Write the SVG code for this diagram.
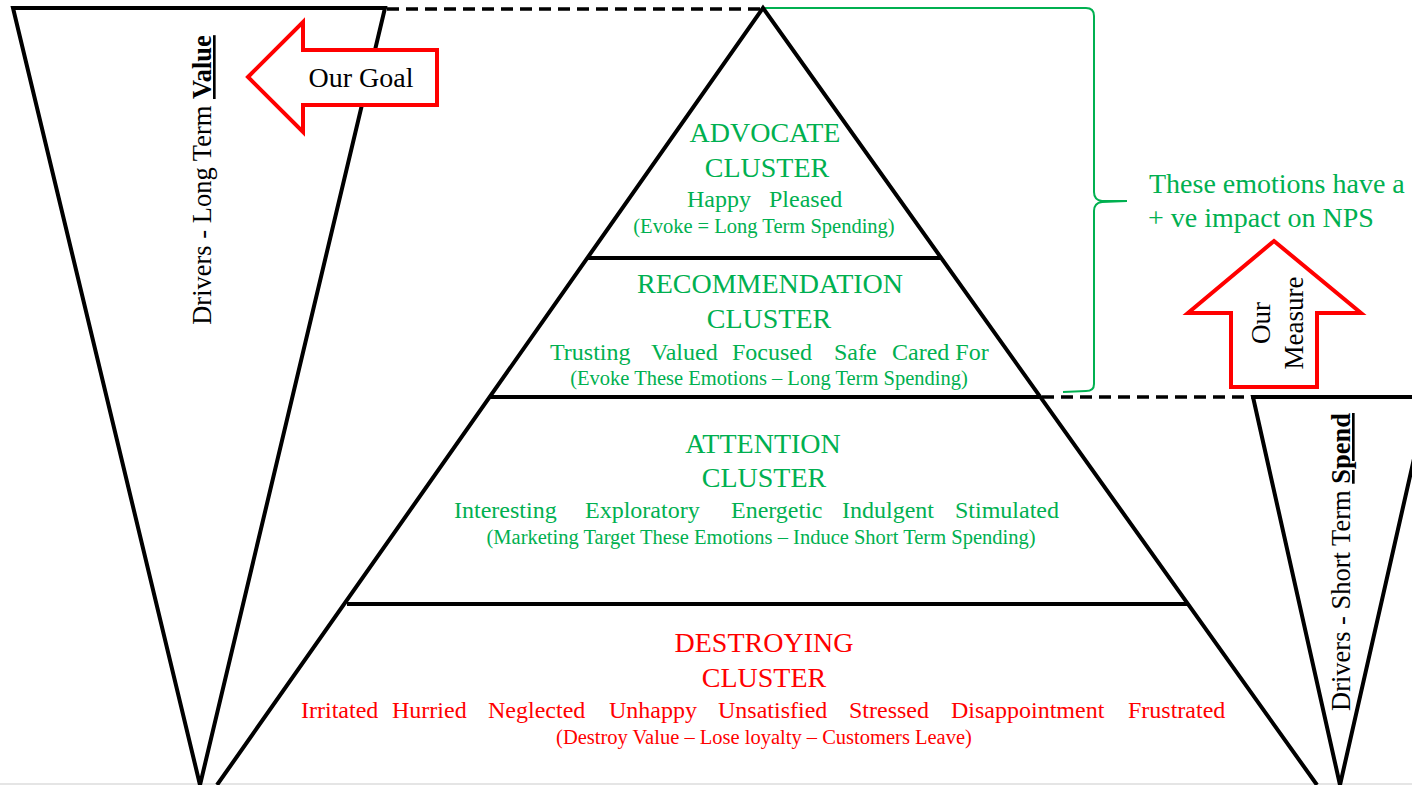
<svg xmlns="http://www.w3.org/2000/svg" width="1412" height="785" viewBox="0 0 1412 785">
<style>
  text { font-family: "Liberation Serif", "Times New Roman", serif; }
  .ln { fill: none; stroke: #000; stroke-width: 4; stroke-linejoin: miter; }
  .hl { fill: none; stroke: #000; stroke-width: 4; }
  .dash { fill: none; stroke: #000; stroke-width: 3.5; stroke-dasharray: 12 7; }
  .arrow { fill: #fff; stroke: #ff0000; stroke-width: 4; stroke-linejoin: miter; }
  .brace { fill: none; stroke: #00b050; stroke-width: 2; }
  .g { fill: #00b050; }
  .r { fill: #ff0000; }
  .k { fill: #000; }
  .head { font-size: 28px; text-anchor: middle; }
  .emo { font-size: 24px; }
  .par { font-size: 20.5px; text-anchor: middle; }
  .side { font-size: 26.5px; text-anchor: middle; }
  .b { font-weight: bold; text-decoration: underline; }
</style>
<rect x="0" y="0" width="1412" height="785" fill="#fff"/>

<g id="connectors">
  <line class="dash" x1="387" y1="9" x2="761" y2="9"/>
  <line class="dash" x1="1042" y1="397" x2="1253" y2="397"/>
  <path class="brace" d="M763,8 L1086,8 Q1094,8 1094,16 L1094,192 Q1094,200 1102,201 L1127,201 L1102,202 Q1094,203 1094,211 L1094,384 Q1094,391 1086,391 L1063,392"/>
  <line x1="0" y1="784" x2="1412" y2="784" stroke="#dcdcdc" stroke-width="1.5"/>
</g>

<g id="left-funnel">
  <polygon class="ln" points="13,8 385,8 200,785"/>
  <text class="side k" transform="translate(211,180) rotate(-90)">Drivers - Long Term <tspan class="b">Value</tspan></text>
</g>

<g id="our-goal">
  <polygon class="arrow" points="248,77 303,22 303,50 437,50 437,105 303,105 303,132"/>
  <text class="k" x="361" y="87" font-size="28" text-anchor="middle">Our Goal</text>
</g>

<g id="pyramid-outline">
  <polyline class="ln" points="217,785 763,8 1317,785"/>
</g>

<g id="advocate-cluster">
  <line class="hl" x1="587" y1="258" x2="942" y2="258"/>
  <text class="head g" x="765" y="142">ADVOCATE</text>
  <text class="head g" x="767" y="177">CLUSTER</text>
  <text class="emo g" y="207"><tspan x="687">Happy</tspan><tspan x="769">Pleased</tspan></text>
  <text class="par g" x="764" y="233">(Evoke = Long Term Spending)</text>
</g>

<g id="recommendation-cluster">
  <line class="hl" x1="489" y1="397" x2="1041" y2="397"/>
  <text class="head g" x="770" y="293">RECOMMENDATION</text>
  <text class="head g" x="769" y="328">CLUSTER</text>
  <text class="emo g" y="360"><tspan x="550">Trusting</tspan><tspan x="651">Valued</tspan><tspan x="732">Focused</tspan><tspan x="834">Safe</tspan><tspan x="892">Cared For</tspan></text>
  <text class="par g" x="769" y="385">(Evoke These Emotions – Long Term Spending)</text>
</g>

<g id="attention-cluster">
  <line class="hl" x1="347" y1="604" x2="1187" y2="604"/>
  <text class="head g" x="763" y="453">ATTENTION</text>
  <text class="head g" x="764" y="487">CLUSTER</text>
  <text class="emo g" y="518"><tspan x="454">Interesting</tspan><tspan x="585">Exploratory</tspan><tspan x="731">Energetic</tspan><tspan x="842">Indulgent</tspan><tspan x="955">Stimulated</tspan></text>
  <text class="par g" x="761" y="544">(Marketing Target These Emotions – Induce Short Term Spending)</text>
</g>

<g id="destroying-cluster">
  <text class="head r" x="764" y="652">DESTROYING</text>
  <text class="head r" x="764" y="687">CLUSTER</text>
  <text class="emo r" y="718"><tspan x="301">Irritated</tspan><tspan x="392">Hurried</tspan><tspan x="488">Neglected</tspan><tspan x="609">Unhappy</tspan><tspan x="718">Unsatisfied</tspan><tspan x="849">Stressed</tspan><tspan x="951">Disappointment</tspan><tspan x="1128">Frustrated</tspan></text>
  <text class="par r" x="764" y="744">(Destroy Value – Lose loyalty – Customers Leave)</text>
</g>

<g id="nps-note">
  <text class="g" x="1149" y="193" font-size="28">These emotions have a</text>
  <text class="g" x="1148" y="227" font-size="28">+ ve impact on NPS</text>
</g>

<g id="our-measure">
  <polygon class="arrow" points="1274,241 1361,313 1317,313 1317,387 1231,387 1231,313 1188,313"/>
  <text class="k" transform="translate(1270,323) rotate(-90)" font-size="27" text-anchor="middle">Our</text>
  <text class="k" transform="translate(1303,323) rotate(-90)" font-size="27" text-anchor="middle">Measure</text>
</g>

<g id="right-funnel">
  <polyline class="ln" points="1416,397 1253,397 1340,785 1428,397"/>
  <text class="side k" transform="translate(1350,562) rotate(-90)">Drivers - Short Term <tspan class="b">Spend</tspan></text>
</g>
</svg>
